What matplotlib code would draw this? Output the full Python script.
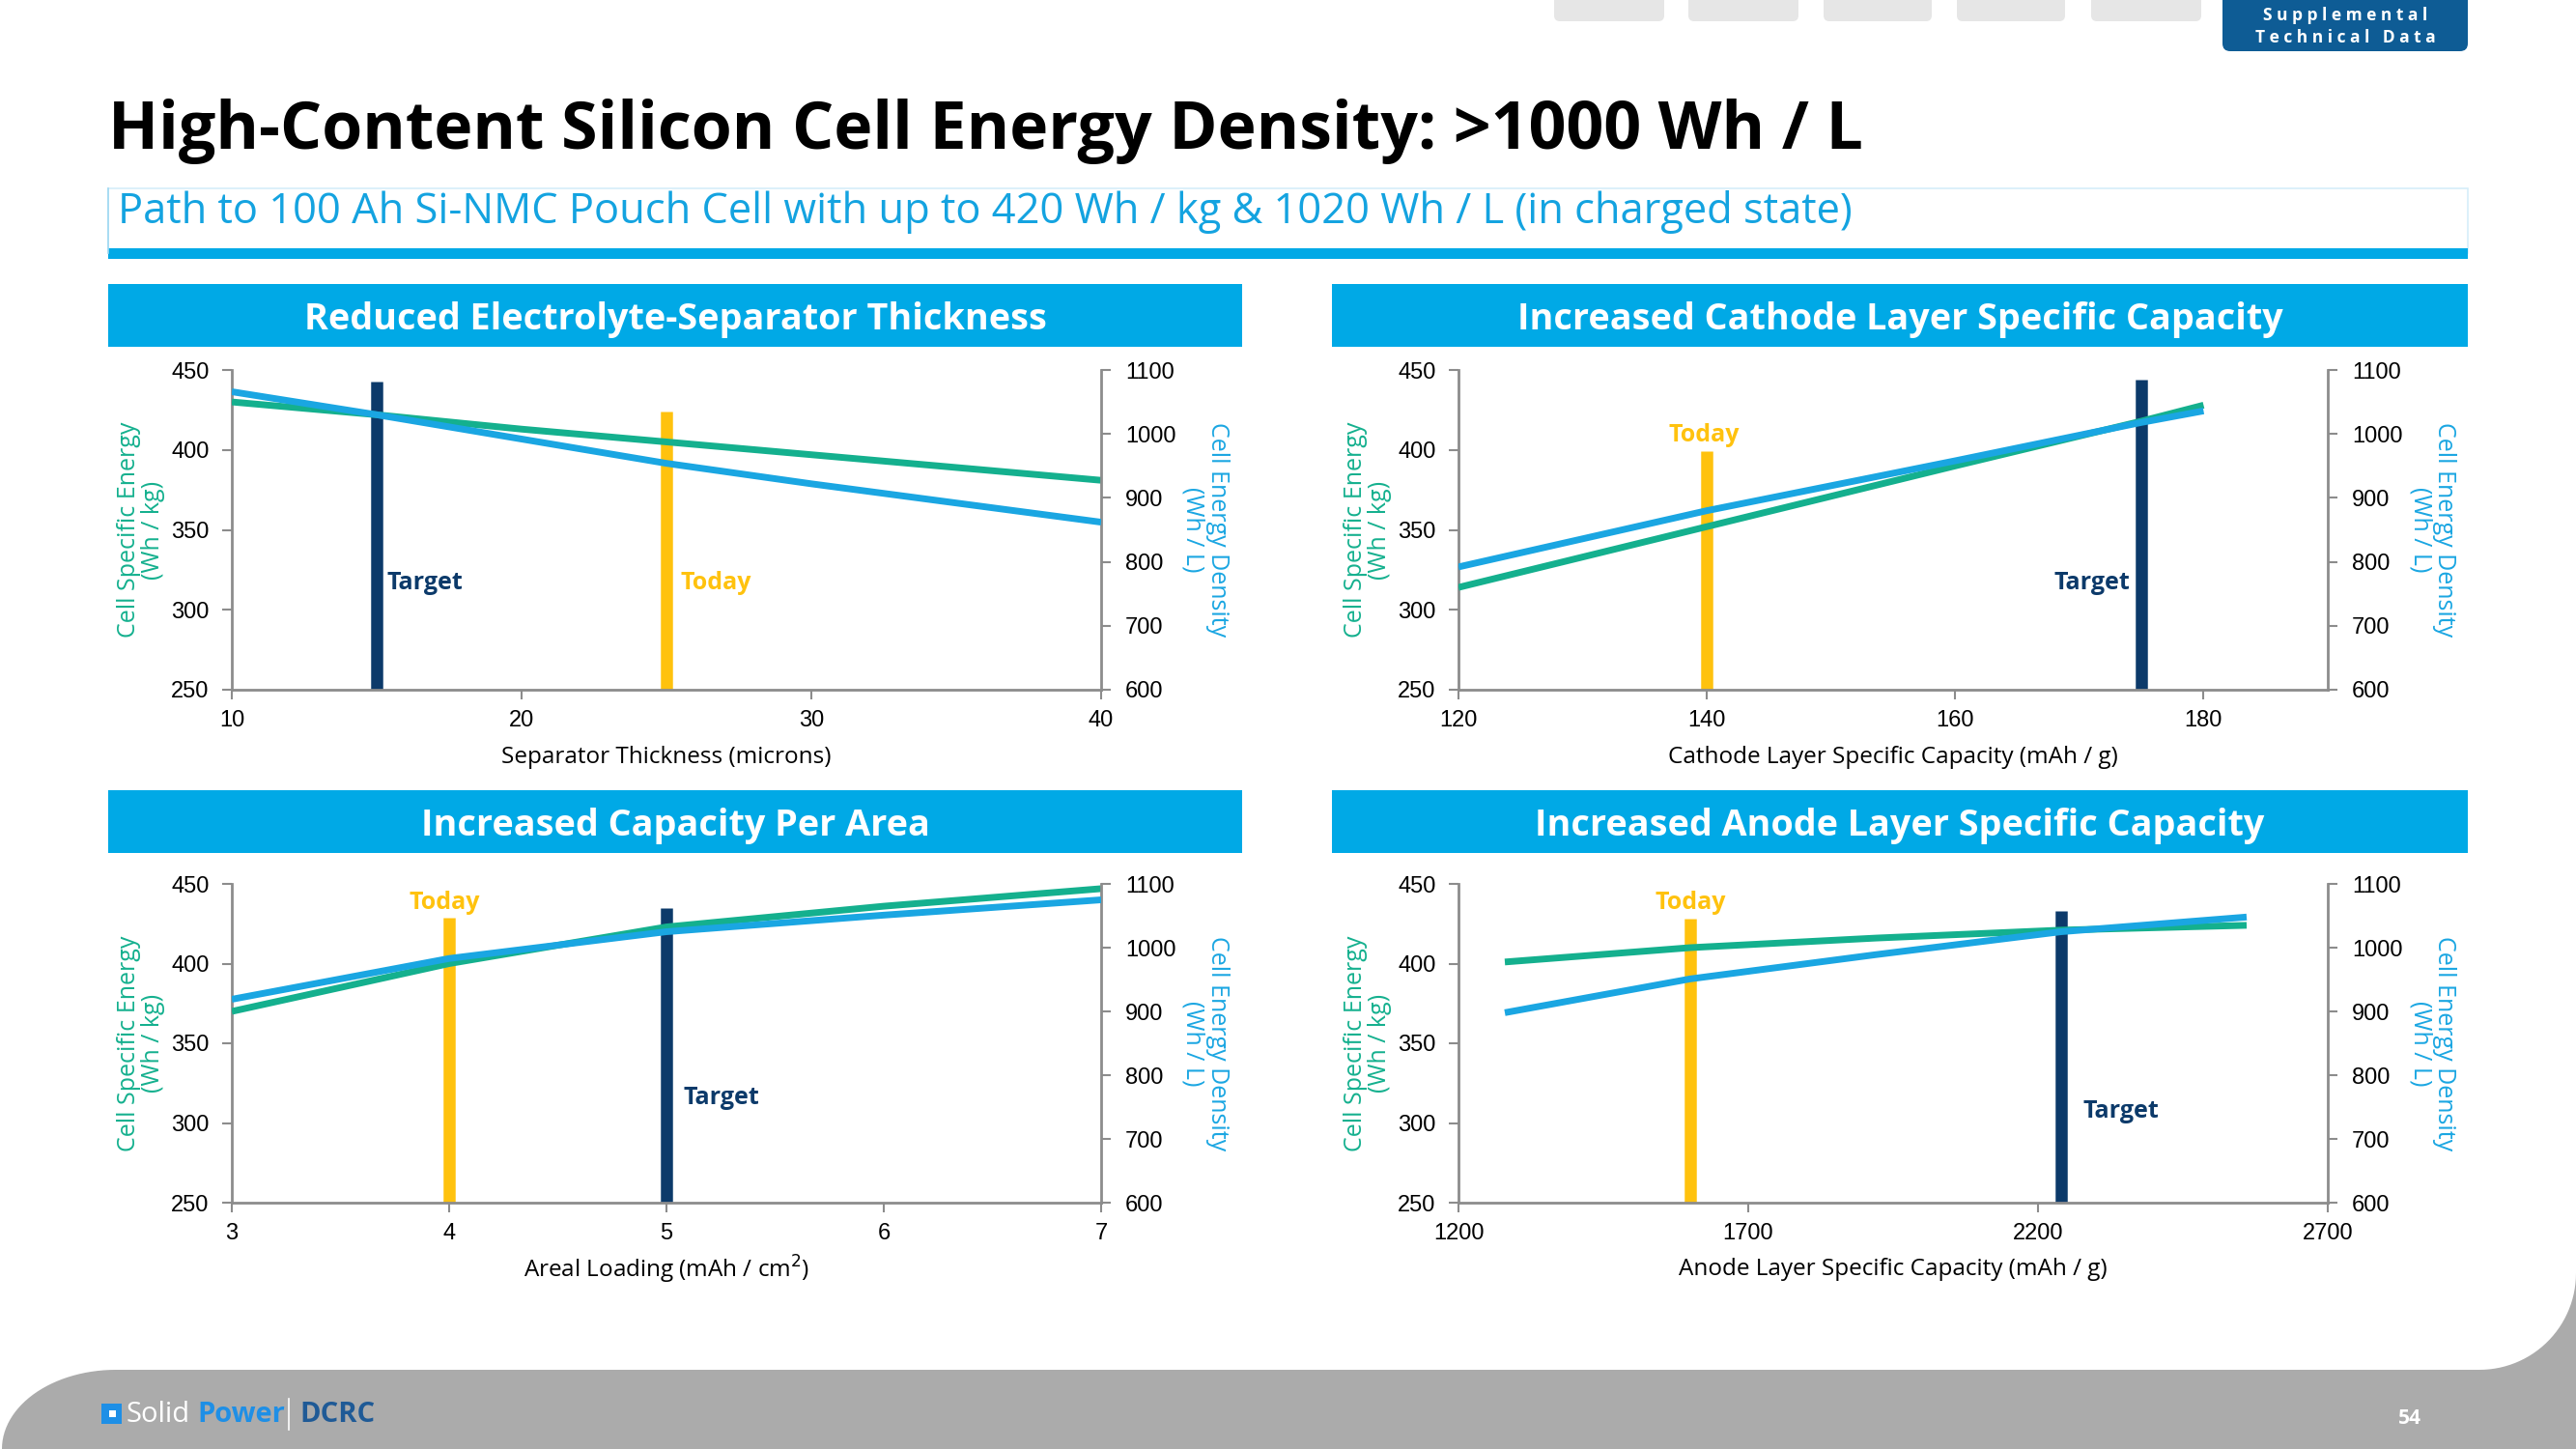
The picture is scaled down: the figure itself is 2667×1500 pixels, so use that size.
import numpy as np
import matplotlib
matplotlib.use("Agg")
import matplotlib.pyplot as plt
from matplotlib.patches import Rectangle, FancyBboxPatch, Polygon

# ---------------- data ----------------
sep_x = [10, 15, 20, 25, 30, 35, 40]
sep_energy = [430, 422, 413, 405, 397, 389, 381]
sep_density = [1066, 1030, 992, 954, 922, 892, 862]
sep_today, sep_today_h = 25, 424
sep_target, sep_target_h = 15, 443

cath_x = [120, 140, 160, 175, 180]
cath_energy = [314, 352, 390, 418, 428]
cath_density = [792, 880, 958, 1018, 1036]
cath_today, cath_today_h = 140, 399
cath_target, cath_target_h = 175, 444

area_x = [3, 4, 5, 6, 7]
area_energy = [370, 400, 423, 436, 447]
area_density = [919, 983, 1025, 1051, 1075]
area_today, area_today_h = 4, 429
area_target, area_target_h = 5, 435

anode_x = [1280, 1600, 1920, 2240, 2560]
anode_energy = [401, 410, 416, 421, 424]
anode_density = [898, 951, 989, 1025, 1048]
anode_today, anode_today_h = 1600, 428
anode_target, anode_target_h = 2240, 433

energy_ticks = [250, 300, 350, 400, 450]
density_ticks = [600, 700, 800, 900, 1000, 1100]

# ---------------- style ----------------
W, H = 2667, 1500
GREEN = '#14B08E'
BLUE = '#1AA6E2'
NAVY = '#0C3A6A'
YELLOW = '#FFC20E'
BAND = '#00A9E6'
GRAY_AX = '#8C8C8C'
TFONT = ['Open Sans', 'DejaVu Sans']
NFONT = ['Liberation Sans', 'DejaVu Sans']

fig = plt.figure(figsize=(W / 100, H / 100), dpi=100)
fig.patch.set_facecolor('white')

def fbox(x0, y0, x1, y1):
    return [x0 / W, 1 - y1 / H, (x1 - x0) / W, (y1 - y0) / H]

bg = fig.add_axes([0, 0, 1, 1])
bg.set_xlim(0, W)
bg.set_ylim(H, 0)
bg.axis('off')
bg.set_zorder(-5)

# top tabs
for x0, x1 in [(1609, 1723), (1748, 1862), (1888, 2000), (2026, 2138), (2165, 2279)]:
    bg.add_patch(FancyBboxPatch((x0 + 6, -30), x1 - x0 - 12, 46,
                                boxstyle='round,pad=6', fc='#E6E6E6', ec='none'))
bg.add_patch(FancyBboxPatch((2309, -30), 238, 75,
                            boxstyle='round,pad=8', fc='#0E5C95', ec='none'))
bg.text(2428, 16, 'S u p p l e m e n t a l', color='white', fontsize=12.5,
        fontweight='bold', family=TFONT, ha='center', va='center')
bg.text(2428, 39, 'T e c h n i c a l   D a t a', color='white', fontsize=12.5,
        fontweight='bold', family=TFONT, ha='center', va='center')

# title
bg.text(112, 136, 'High-Content Silicon Cell Energy Density: >1000 Wh / L',
        fontsize=49, fontweight='bold', family=TFONT, color='black',
        ha='left', va='center')
# subtitle box
bg.add_patch(Rectangle((112, 195), 2443, 67, fc='none', ec='#D6EEF9', lw=1.2))
bg.plot([112, 112], [195, 262], color='#9FD8F2', lw=1.2)
bg.text(122, 219, 'Path to 100 Ah Si-NMC Pouch Cell with up to 420 Wh / kg & 1020 Wh / L (in charged state)',
        fontsize=31.3, family=TFONT, color='#14A3E0', ha='left', va='center')
bg.add_patch(Rectangle((112, 257), 2443, 11, fc=BAND, ec='none'))

# footer
ang = np.linspace(np.pi, 1.5 * np.pi, 30)
left_corner = np.column_stack([120 + 118 * np.cos(ang), 1500 + 82 * np.sin(ang)])
ang2 = np.linspace(0.5 * np.pi, 0.0, 30)
right_corner = np.column_stack([2567 + 100 * np.cos(ang2), 1318 + 100 * np.sin(ang2)])
pts = np.vstack([[[0, 1500]], left_corner, [[2567, 1418]], right_corner, [[2667, 1300], [2667, 1500]]])
bg.add_patch(Polygon(pts, closed=True, fc='#ABABAB', ec='none'))
bg.add_patch(Rectangle((105, 1453), 21, 21, fc='#1E8FE6', ec='none'))
bg.add_patch(Rectangle((113, 1460), 7, 7, fc='white', ec='none'))
bg.text(131, 1464, 'Solid', color='white', fontsize=21, family=TFONT, ha='left', va='center')
bg.text(204, 1464, 'Power', color='#1E8FE6', fontsize=21, fontweight='bold', family=TFONT, ha='left', va='center')
bg.plot([299, 299], [1448, 1480], color='white', lw=1.2)
bg.text(310, 1464, 'DCRC', color='#1F5A96', fontsize=21, fontweight='bold', family=TFONT, ha='left', va='center')
bg.text(2495, 1468, '54', color='white', fontsize=15, fontweight='bold', family=TFONT, ha='center', va='center')


def chart(px, hdr, title, x, energy, density, xlim, xticks, xlabel,
          today, today_h, target, target_h, today_lbl, target_lbl):
    x0, y0, x1, y1 = px
    hx0, hy0, hx1, hy1 = hdr
    bg.add_patch(Rectangle((hx0, hy0), hx1 - hx0, hy1 - hy0, fc=BAND, ec='none'))
    bg.text((hx0 + hx1) / 2, (hy0 + hy1) / 2 + 4, title, color='white', fontsize=27.2,
            fontweight='bold', family=TFONT, ha='center', va='center')

    ax = fig.add_axes(fbox(x0, y0, x1, y1))
    ax2 = ax.twinx()
    ax.set_xlim(*xlim)
    ax.set_ylim(250, 450)
    ax2.set_ylim(600, 1100)
    ax.set_xticks(xticks)
    ax.set_yticks(energy_ticks)
    ax2.set_yticks(density_ticks)
    ax.patch.set_alpha(0)

    ax.vlines([today], 250, [today_h], colors=YELLOW, lw=9, zorder=2)
    ax.vlines([target], 250, [target_h], colors=NAVY, lw=9, zorder=2)
    ax.plot(x, energy, color=GREEN, lw=5, zorder=3, solid_capstyle='butt')
    ax2.plot(x, density, color=BLUE, lw=5, zorder=3, solid_capstyle='butt')

    for a in (ax, ax2):
        a.spines['top'].set_visible(False)
        for s in ('left', 'right', 'bottom'):
            a.spines[s].set_color(GRAY_AX)
            a.spines[s].set_linewidth(2)
    ax.spines['right'].set_visible(False)
    ax2.spines['left'].set_visible(False)
    ax2.spines['bottom'].set_visible(False)

    ax.tick_params(axis='both', direction='out', length=7, width=1.5, color=GRAY_AX,
                   labelsize=17, labelcolor='black')
    ax.tick_params(axis='y', pad=10)
    ax.tick_params(axis='x', pad=8)
    ax2.tick_params(axis='y', direction='out', length=7, width=1.5, color=GRAY_AX,
                    labelsize=17, labelcolor='black', pad=11)
    for lab in ax.get_xticklabels() + ax.get_yticklabels() + ax2.get_yticklabels():
        lab.set_family(NFONT)

    ax.set_ylabel('Cell Specific Energy\n(Wh / kg)', color=GREEN, fontsize=18,
                  family=TFONT, rotation=90, ha='center', va='center', linespacing=1.0)
    ax.yaxis.set_label_coords(-0.104, 0.5)
    ax2.set_ylabel('Cell Energy Density\n(Wh / L)', color=BLUE, fontsize=18,
                   family=TFONT, rotation=-90, ha='center', va='center', linespacing=1.0)
    ax2.yaxis.set_label_coords(1.12, 0.5)
    ax.set_xlabel(xlabel, fontsize=17.5, family=TFONT, color='black', va='center')
    ax.xaxis.set_label_coords(0.5, -0.21)

    for (lx, ly, ha), txt, col in ((today_lbl, 'Today', YELLOW), (target_lbl, 'Target', NAVY)):
        ax.text(lx, ly, txt, color=col, fontsize=18, fontweight='bold', family=TFONT,
                ha=ha, va='center', zorder=4)


chart((240, 383, 1140, 714), (112, 294, 1286, 359), 'Reduced Electrolyte-Separator Thickness',
      sep_x, sep_energy, sep_density, (10, 40), [10, 20, 30, 40], 'Separator Thickness (microns)',
      sep_today, sep_today_h, sep_target, sep_target_h,
      (25.5, 317, 'left'), (15.35, 317, 'left'))

chart((1510, 383, 2410, 714), (1379, 294, 2555, 359), 'Increased Cathode Layer Specific Capacity',
      cath_x, cath_energy, cath_density, (120, 190), [120, 140, 160, 180],
      'Cathode Layer Specific Capacity (mAh / g)',
      cath_today, cath_today_h, cath_target, cath_target_h,
      (139.8, 409, 'center'), (174.1, 317, 'right'))

chart((240, 915, 1140, 1245), (112, 818, 1286, 883), 'Increased Capacity Per Area',
      area_x, area_energy, area_density, (3, 7), [3, 4, 5, 6, 7],
      'Areal Loading (mAh / cm$^2$)',
      area_today, area_today_h, area_target, area_target_h,
      (3.98, 438, 'center'), (5.08, 316, 'left'))

chart((1510, 915, 2410, 1245), (1379, 818, 2555, 883), 'Increased Anode Layer Specific Capacity',
      anode_x, anode_energy, anode_density, (1200, 2700), [1200, 1700, 2200, 2700],
      'Anode Layer Specific Capacity (mAh / g)',
      anode_today, anode_today_h, anode_target, anode_target_h,
      (1600, 438, 'center'), (2278, 307, 'left'))

fig.savefig('out.png', dpi=100)
